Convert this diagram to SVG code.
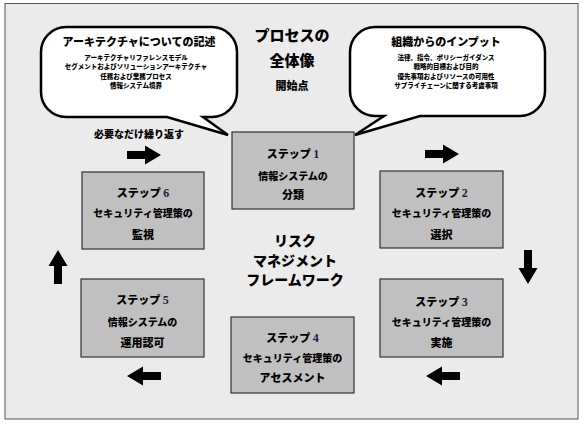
<svg xmlns="http://www.w3.org/2000/svg" width="586" height="424" viewBox="0 0 586 424">
<defs>
<style>
text{font-family:"Noto Sans CJK JP","Noto Sans CJK SC",sans-serif;font-weight:900;fill:#000;text-anchor:middle}
.box{fill:#c0c0c0;stroke:#333;stroke-width:1.2}
.bubble{fill:#fff;stroke:#000;stroke-width:2.5;stroke-linejoin:miter}
.t1{font-size:11px}
.t2{font-size:10px}
.t3{font-size:11px}
.num{font-family:"Liberation Serif",serif;font-weight:bold;font-size:12px;fill:#1c1c3c}
.small{font-size:6.5px}
.big{font-size:15px}
.mid{font-size:14px}
</style>
<path id="arr" d="M-17,-4 H1 V-9.5 L17,0 L1,9.5 V4 H-17 Z" fill="#000"/>
</defs>
<rect x="5" y="3.5" width="573" height="415.5" fill="#ebebeb" stroke="#555" stroke-width="1"/>

<g id="bubble-left">
<path class="bubble" d="M66,27 H212 A25,25 0 0 1 237,52 V92 A25,25 0 0 1 212,117 H203 L228,135 L167,117 H66 A25,25 0 0 1 41,92 V52 A25,25 0 0 1 66,27 Z"/>
<text class="t1" x="139" y="46">アーキテクチャについての記述</text>
<text class="small" x="136" y="59.5">アーキテクチャリファレンスモデル</text>
<text class="small" x="136" y="69">セグメントおよびソリューションアーキテクチャ</text>
<text class="small" x="136" y="78.5">任務および業務プロセス</text>
<text class="small" x="136" y="88">情報システム境界</text>
</g>

<g id="bubble-right">
<path class="bubble" d="M375,27 H520 A25,25 0 0 1 545,52 V91 A25,25 0 0 1 520,116 H420 L355,135 L384,116 H375 A25,25 0 0 1 350,91 V52 A25,25 0 0 1 375,27 Z"/>
<text class="t1" x="446" y="46">組織からのインプット</text>
<text class="small" x="446" y="59.5">法律、指令、ポリシーガイダンス</text>
<text class="small" x="446" y="69">戦略的目標および目的</text>
<text class="small" x="446" y="78.5">優先事項およびリソースの可用性</text>
<text class="small" x="446" y="88">サプライチェーンに関する考慮事項</text>
</g>

<g id="title">
<text class="big" x="292" y="40.5">プロセスの</text>
<text class="big" x="292" y="65.5">全体像</text>
<text class="t1" x="292" y="90">開始点</text>
</g>

<g id="center-label">
<text class="mid" x="295" y="246">リスク</text>
<text class="mid" x="295" y="265.5">マネジメント</text>
<text class="mid" x="295" y="285">フレームワーク</text>
</g>

<g id="repeat-label">
<text class="t2" x="139" y="137.5">必要なだけ繰り返す</text>
</g>

<g id="step1">
<rect class="box" x="232" y="132" width="122" height="77"/>
<text class="t1" x="293" y="158">ステップ <tspan class="num">1</tspan></text>
<text class="t2" x="293" y="179.5">情報システムの</text>
<text class="t3" x="293" y="199">分類</text>
</g>

<g id="step2">
<rect class="box" x="380" y="171" width="123" height="77"/>
<text class="t1" x="441.5" y="197">ステップ <tspan class="num">2</tspan></text>
<text class="t2" x="441.5" y="216.5">セキュリティ管理策の</text>
<text class="t3" x="441.5" y="239">選択</text>
</g>

<g id="step3">
<rect class="box" x="380" y="279" width="123" height="78"/>
<text class="t1" x="441.5" y="306">ステップ <tspan class="num">3</tspan></text>
<text class="t2" x="441.5" y="325.5">セキュリティ管理策の</text>
<text class="t3" x="441.5" y="347">実施</text>
</g>

<g id="step4">
<rect class="box" x="231" y="317" width="123" height="76"/>
<text class="t1" x="292.5" y="342">ステップ <tspan class="num">4</tspan></text>
<text class="t2" x="292.5" y="361.5">セキュリティ管理策の</text>
<text class="t3" x="292.5" y="382">アセスメント</text>
</g>

<g id="step5">
<rect class="box" x="81" y="279" width="123" height="78"/>
<text class="t1" x="142.5" y="304">ステップ <tspan class="num">5</tspan></text>
<text class="t2" x="142.5" y="325.5">情報システムの</text>
<text class="t3" x="142.5" y="347">運用認可</text>
</g>

<g id="step6">
<rect class="box" x="82" y="172" width="122" height="77"/>
<text class="t1" x="143" y="197">ステップ <tspan class="num">6</tspan></text>
<text class="t2" x="143" y="216.5">セキュリティ管理策の</text>
<text class="t3" x="143" y="239">監視</text>
</g>

<g id="connectors">
<use href="#arr" transform="translate(144,155)"/>
<use href="#arr" transform="translate(442,154)"/>
<use href="#arr" transform="translate(528,267) rotate(90)"/>
<use href="#arr" transform="translate(443,376) rotate(180)"/>
<use href="#arr" transform="translate(144,376) rotate(180)"/>
<use href="#arr" transform="translate(58,267) rotate(-90)"/>
</g>
</svg>
